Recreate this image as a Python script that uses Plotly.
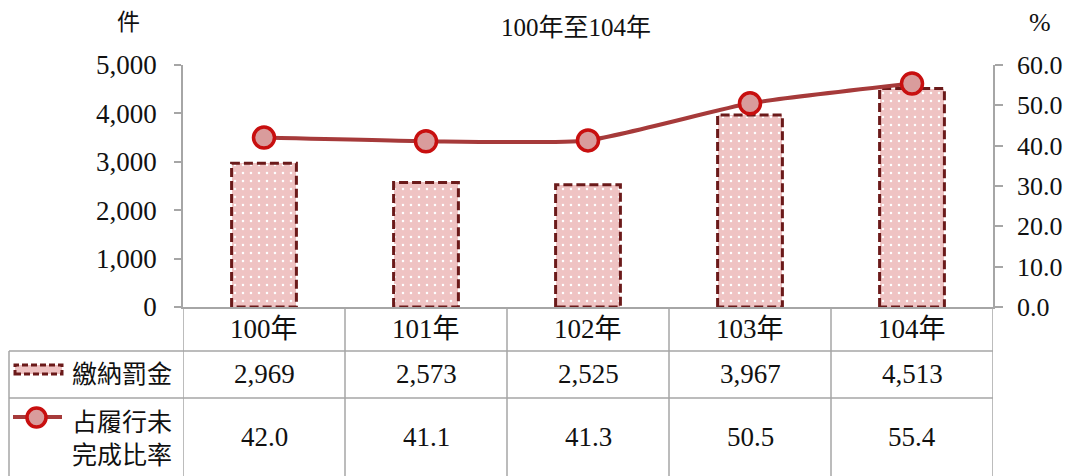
import plotly.graph_objects as go

# ---- data ----
years = ["100年", "101年", "102年", "103年", "104年"]
fines = [2969, 2573, 2525, 3967, 4513]
rates = [42.0, 41.1, 41.3, 50.5, 55.4]
bar_name = "繳納罰金"
line_name = "占履行未<br>完成比率"
title_text = "100年至104年"
left_unit = "件"
right_unit = "%"
y1_ticks = [0, 1000, 2000, 3000, 4000, 5000]
y2_ticks = [0, 10, 20, 30, 40, 50, 60]

# ---- layout helpers (reference pixel coords; page body has an 8px margin) ----
OFF = 8
W, H = 1071 - OFF, 476 - OFF
L, R, T, B = 183, 993, 65, 307


def px(x):
    return (x - L) / (R - L)


def py(y):
    return (B - y) / (B - T)


FONT = "Liberation Serif, Noto Sans CJK TC, serif"
BAR_FILL = "#efc3c3"
BAR_EDGE = "#6b1a1a"
LINE_COL = "#a63a3a"
MK_FILL = "#d99c9c"
MK_EDGE = "#c80f0f"
GRID = "#a6a6a6"
BW = 0.4
FS = 27

xs = list(range(len(years)))

fig = go.Figure()
fig.add_trace(go.Bar(
    x=xs, y=fines, width=BW, name=bar_name,
    marker=dict(color=BAR_FILL, line=dict(width=0),
                pattern=dict(shape=".", fgcolor="white", bgcolor=BAR_FILL,
                             size=8, solidity=0.08, fillmode="replace")),
    showlegend=False,
))
# dashed outlines of bars derived from the data
for i, v in zip(xs, fines):
    fig.add_trace(go.Scatter(
        x=[i - BW / 2, i - BW / 2, i + BW / 2, i + BW / 2, i - BW / 2],
        y=[0, v, v, 0, 0], mode="lines",
        line=dict(color=BAR_EDGE, width=3, dash="9px,4px"),
        hoverinfo="skip", showlegend=False,
    ))
fig.add_trace(go.Scatter(
    x=xs, y=rates, yaxis="y2", mode="lines+markers",
    line=dict(color=LINE_COL, width=4, shape="spline", smoothing=0.5),
    marker=dict(size=21, color=MK_FILL, line=dict(color=MK_EDGE, width=3.5)),
    showlegend=False,
))


def note(text, x, y, size, xref="paper"):
    return dict(text=text, x=x, y=y, xref=xref, yref="paper", showarrow=False,
                xanchor="center", yanchor="middle", font=dict(size=size, color="#111"))


ann = [
    note(title_text, px(576), py(27), 25),
    note(left_unit, px(128), py(22), 23),
    note(right_unit, px(1040), py(22), 26),
]
for i, (yr, f, r) in enumerate(zip(years, fines, rates)):
    ann.append(note(yr, i, py(329), FS, xref="x"))
    ann.append(note(f"{f:,}", i, py(374), FS, xref="x"))
    ann.append(note(f"{r:.1f}", i, py(437), FS, xref="x"))
ann.append(note(bar_name, px(122), py(374), 25))
ann.append(note(line_name, px(122), py(439), 25))

shapes = []
line_style = dict(color=GRID, width=1.5)
for yy in (351, 398):
    shapes.append(dict(type="line", xref="paper", yref="paper",
                       x0=px(9), x1=px(993), y0=py(yy), y1=py(yy), line=line_style))
for k in range(len(years) + 1):
    shapes.append(dict(type="line", xref="x", yref="paper",
                       x0=k - 0.5, x1=k - 0.5, y0=py(307), y1=py(478), line=line_style))
shapes.append(dict(type="line", xref="paper", yref="paper",
                   x0=px(9), x1=px(9), y0=py(351), y1=py(478), line=line_style))
# legend icons
shapes.append(dict(type="rect", xref="paper", yref="paper",
                   x0=px(15), x1=px(62), y0=py(374), y1=py(365),
                   fillcolor=BAR_FILL, line=dict(color=BAR_EDGE, width=3, dash="6px,3px")))
shapes.append(dict(type="line", xref="paper", yref="paper",
                   x0=px(13), x1=px(62), y0=py(417), y1=py(417),
                   line=dict(color=LINE_COL, width=4)))
shapes.append(dict(type="circle", xref="paper", yref="paper",
                   x0=px(27), x1=px(46), y0=py(427), y1=py(408),
                   fillcolor=MK_FILL, line=dict(color=MK_EDGE, width=3.5)))

fig.update_layout(
    width=W, height=H,
    margin=dict(l=L - OFF, r=1071 - R, t=T - OFF, b=476 - B, pad=0, autoexpand=False),
    paper_bgcolor="white", plot_bgcolor="white",
    font=dict(family=FONT, color="#111"),
    annotations=ann, shapes=shapes,
    bargap=0,
    xaxis=dict(range=[-0.5, len(years) - 0.5], showticklabels=False, ticks="",
               automargin=False,
               showgrid=False, zeroline=False, showline=True, linecolor=GRID, linewidth=1.5),
    yaxis=dict(range=[0, 5000], tickvals=y1_ticks, ticktext=[f"{v:,}" for v in y1_ticks],
               ticks="outside", ticklen=7, tickcolor=GRID, tickwidth=1.5,
               showline=True, linecolor=GRID, linewidth=1.5, automargin=False,
               showgrid=False, zeroline=False, tickfont=dict(size=FS),
               ticklabelstandoff=12),
    yaxis2=dict(range=[0, 60], tickvals=y2_ticks, ticktext=[f"{v:.1f}" for v in y2_ticks],
                overlaying="y", side="right", automargin=False,
                ticks="outside", ticklen=8, tickcolor=GRID, tickwidth=1.5,
                showline=True, linecolor=GRID, linewidth=1.5,
                showgrid=False, zeroline=False, tickfont=dict(size=26),
                ticklabelstandoff=9),
)

fig.write_html("out.html")
